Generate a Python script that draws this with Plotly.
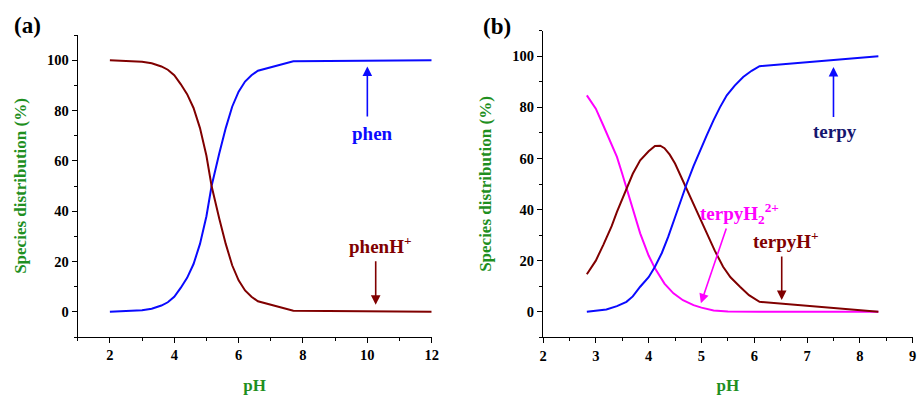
import plotly.graph_objects as go

# ---------------- data: panel (a) phen ----------------
ph_a = [2, 2.5, 3, 3.3, 3.6, 3.8, 4.0, 4.2, 4.4, 4.6, 4.8, 5.0, 5.16, 5.4, 5.6, 5.8, 6.0, 6.2, 6.4, 6.6, 7.7, 12]
phen = [0, 0.2, 0.6, 1.2, 2.5, 3.8, 6, 9.5, 13.5, 19, 27, 38, 50, 63, 73, 81.5, 87.5, 91.5, 94, 95.8, 99.6, 100]
phenH = [100, 99.8, 99.4, 98.8, 97.5, 96.2, 94, 90.5, 86.5, 81, 73, 62, 50, 37, 27, 18.5, 12.5, 8.5, 6, 4.2, 0.4, 0]

# ---------------- data: panel (b) terpy ----------------
ph_b_h2 = [2.83, 3.0, 3.14, 3.3, 3.4, 3.5, 3.6, 3.7, 3.84, 4.0, 4.12, 4.3, 4.47, 4.65, 4.85, 5.0, 5.23, 5.5, 6.1, 8.35]
terpyH2 = [84.7, 79.5, 73, 65.5, 60.6, 54, 47, 40, 30.7, 22, 17, 11, 7.2, 4.5, 2.6, 1.6, 0.5, 0.1, 0, 0]

ph_b_h = [2.83, 3.0, 3.14, 3.3, 3.4, 3.58, 3.7, 3.84, 4.0, 4.12, 4.22, 4.3, 4.4, 4.5, 4.6, 4.72, 4.85, 5.0, 5.1, 5.25, 5.41, 5.55, 5.73, 5.9, 6.1, 8.35]
terpyH = [14.7, 20, 26.1, 33.5, 39.1, 48.3, 54, 59.3, 62.8, 64.9, 65, 64, 61.5, 58, 53.5, 48, 42, 35, 30.7, 24, 17.6, 13.5, 9.8, 6.5, 3.9, 0]

ph_b_0 = [2.83, 3.0, 3.2, 3.4, 3.58, 3.7, 3.84, 4.0, 4.12, 4.25, 4.37, 4.5, 4.6, 4.72, 4.85, 5.0, 5.1, 5.23, 5.35, 5.48, 5.63, 5.79, 5.95, 6.1, 8.35]
terpy = [0, 0.3, 0.9, 2.2, 3.9, 6, 9.8, 13.5, 17.6, 23, 29.3, 37, 43, 50, 57, 64.5, 69, 75, 80, 84.7, 88.5, 91.9, 94.3, 96.1, 100]

y_ticks = [0, 20, 40, 60, 80, 100]
x_ticks_a = [2, 4, 6, 8, 10, 12]
x_ticks_b = [2, 3, 4, 5, 6, 7, 8, 9]

BLUE = "#0a0aff"
DRED = "#800000"
MAG = "#ff00ff"
GREEN = "#1f8f1f"
NAVY = "#16166e"
FONT = "Liberation Serif"

fig = go.Figure()
fig.add_trace(go.Scatter(x=ph_a, y=phen, mode="lines", line=dict(color=BLUE, width=2), xaxis="x", yaxis="y", name="phen"))
fig.add_trace(go.Scatter(x=ph_a, y=phenH, mode="lines", line=dict(color=DRED, width=2), xaxis="x", yaxis="y", name="phenH+"))
fig.add_trace(go.Scatter(x=ph_b_h2, y=terpyH2, mode="lines", line=dict(color=MAG, width=2), xaxis="x2", yaxis="y2", name="terpyH2 2+"))
fig.add_trace(go.Scatter(x=ph_b_h, y=terpyH, mode="lines", line=dict(color=DRED, width=2), xaxis="x2", yaxis="y2", name="terpyH+"))
fig.add_trace(go.Scatter(x=ph_b_0, y=terpy, mode="lines", line=dict(color=BLUE, width=2), xaxis="x2", yaxis="y2", name="terpy"))

# full-window figure; the page's default body margin is removed below
W, H = 919, 395

def px(x):
    return x / W

def py(y):
    return 1 - y / H

tickfont = dict(family=FONT, size=14.5, color="black")
titlefont = dict(family=FONT, size=17, color=GREEN)

def xax(dom, rng, ticks, dtick_minor, anchor):
    return dict(domain=dom, range=rng, tickvals=ticks, ticktext=[f"<b>{t}</b>" for t in ticks],
                showline=True, linecolor="black", linewidth=1, ticks="outside", ticklen=5,
                tickcolor="black", showgrid=False, zeroline=False, tickfont=tickfont, automargin=False,
                ticklabeloverflow="allow",
                minor=dict(dtick=dtick_minor, ticks="outside", ticklen=3, tickcolor="black"),
                title=dict(text="<b>pH</b>", font=dict(family=FONT, size=17, color=GREEN), standoff=18),
                anchor=anchor)

def yax(dom, anchor):
    return dict(domain=dom, range=[-10, 110], tickvals=y_ticks, ticktext=[f"<b>{t}</b>" for t in y_ticks],
                showline=True, linecolor="black", linewidth=1, ticks="outside", ticklen=5,
                tickcolor="black", showgrid=False, zeroline=False, tickfont=tickfont, automargin=False,
                ticklabeloverflow="allow",
                minor=dict(dtick=10, ticks="outside", ticklen=3, tickcolor="black"),
                title=dict(text="<b>Species distribution (%)</b>", font=titlefont, standoff=16),
                anchor=anchor)

fig.update_layout(
    width=W, height=H, margin=dict(l=0, r=0, t=0, b=0, autoexpand=False),
    plot_bgcolor="white", paper_bgcolor="white", showlegend=False,
    xaxis=xax([px(77.7), px(431.7)], [1, 12], x_ticks_a, 1, "y"),
    yaxis=yax([py(337), py(35)], "x"),
    xaxis2=xax([px(543), px(912.7)], [2, 9], x_ticks_b, 0.5, "y2"),
    yaxis2=yax([py(337.3), py(30.7)], "x2"),
    font=dict(family=FONT),
)

def arrow(xref, yref, x, y, ax, ay, color):
    fig.add_annotation(x=x, y=y, ax=ax, ay=ay, xref=xref, yref=yref, axref=xref, ayref=yref,
                       text="", showarrow=True, arrowhead=2, arrowsize=1.2, arrowwidth=1.6, arrowcolor=color)

def label(xref, yref, x, y, text, color, size=19):
    fig.add_annotation(x=x, y=y, xref=xref, yref=yref, text=f"<b>{text}</b>", showarrow=False,
                       xanchor="center", yanchor="middle",
                       font=dict(family=FONT, size=size, color=color))

# panel (a)
arrow("x", "y", 10.0, 97.5, 10.0, 77, BLUE)
label("x", "y", 10.15, 71, "phen", BLUE)
arrow("x", "y", 10.26, 2.8, 10.26, 20.7, DRED)
label("x", "y", 10.4, 26.5, "phenH<sup>+</sup>", DRED)

# panel (b)
arrow("x2", "y2", 7.5, 95.8, 7.5, 75.6, BLUE)
label("x2", "y2", 7.53, 70.4, "terpy", NAVY)
arrow("x2", "y2", 4.99, 3.3, 5.48, 33.2, MAG)
label("x2", "y2", 5.72, 38.5, "terpyH<sub>2</sub><sup>2+</sup>", MAG)
arrow("x2", "y2", 6.52, 4.6, 6.52, 22.2, DRED)
label("x2", "y2", 6.6, 28, "terpyH<sup>+</sup>", DRED)

# panel letters
fig.add_annotation(x=px(27), y=py(25), xref="paper", yref="paper", text="<b>(a)</b>", showarrow=False,
                   xanchor="center", yanchor="middle", font=dict(family=FONT, size=23, color="black"))
fig.add_annotation(x=px(497), y=py(26), xref="paper", yref="paper", text="<b>(b)</b>", showarrow=False,
                   xanchor="center", yanchor="middle", font=dict(family=FONT, size=23, color="black"))

fig.write_html("out.html", config={"displayModeBar": False},
               post_script="document.body.style.margin='0';document.body.style.overflow='hidden';")
